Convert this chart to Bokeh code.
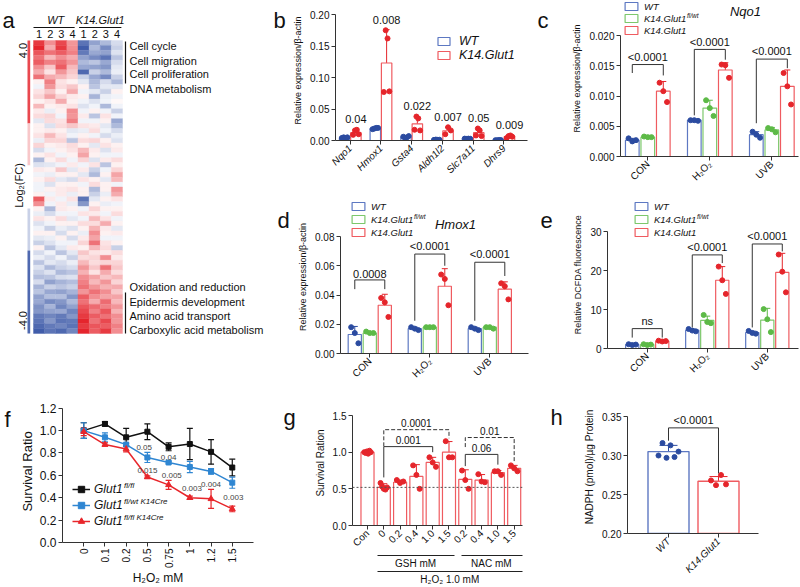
import math
import numpy as np
from bokeh.plotting import figure
from bokeh.models import (Range1d, FixedTicker, NumeralTickFormatter, Legend, LegendItem, Label,
                          LabelSet, Whisker, TeeHead, ColumnDataSource, LinearColorMapper,
                          Span, LinearAxis)
from bokeh.layouts import row, column
from bokeh.core.properties import value
from bokeh.embed import file_html
from bokeh.resources import INLINE

FONT = "Liberation Sans"
AX = "#333333"
BLUE_PT, BLUE_LN = "#2B4BA0", "#5D78C2"
GREEN_PT, GREEN_LN = "#5DBA47", "#7DC86C"
RED_PT, RED_LN = "#E5252B", "#EF5B60"

# ---------------- data: a (heatmap, log2 FC) ----------------
hm_samples = ["1", "2", "3", "4", "1", "2", "3", "4"]
hm_groups = ["WT", "K14.Glut1"]
hm_values = [
    [3.5, 2.0, 3.2, 1.8, -3.0, -2.0, -1.5, -0.8],
    [3.8, 1.5, 3.5, 2.0, -3.5, -1.5, -2.5, -1.0],
    [3.0, 2.5, 2.8, 2.2, -2.8, -1.8, -2.0, -0.6],
    [2.5, 1.2, 2.0, 1.5, -2.0, -2.5, -3.0, -1.2],
    [2.8, 2.2, 2.5, 1.8, -1.5, -1.2, -1.8, -0.8],
    [2.0, 1.0, 2.8, 1.2, -1.8, -2.0, -2.2, -0.5],
    [1.5, 0.5, 1.8, 1.0, -3.2, -1.0, -1.5, -0.4],
    [2.5, 1.5, 1.2, 0.8, -1.0, -1.8, -2.5, -1.0],
    [0.2, 2.2, 0.5, 0.3, -0.5, -1.5, -0.8, -1.5],
    [-0.3, 1.8, 0.6, 1.0, 0.2, -1.2, -0.5, -0.5],
    [0.5, 1.0, 0.3, 1.5, -0.3, -0.5, -1.0, 0.2],
    [0.8, 1.6, 0.8, 0.4, 0.3, -1.6, -0.4, -0.3],
    [0.3, 0.5, 1.5, 0.2, -0.2, -0.6, -0.2, 0.1],
    [1.2, 0.2, 0.4, 0.5, -0.6, -0.3, -1.5, -0.2],
    [0.4, -0.4, 0.2, 2.0, -0.2, 0.3, -0.3, -1.0],
    [0.6, 0.8, -0.2, 1.8, 0.4, -1.2, 0.5, -0.3],
    [-0.5, 0.6, 0.5, 2.2, -0.3, -0.2, 0.3, -1.8],
    [0.2, -0.6, 0.6, 1.0, 0.5, 0.4, -0.5, -1.5],
    [0.3, 0.4, 0.3, -0.5, -0.4, 0.6, -0.2, -0.8],
    [0.5, 1.2, 0.5, -0.2, 0.3, -0.3, -0.8, -0.4],
    [-0.4, 0.8, 0.8, -1.2, 0.6, 0.8, 0.3, -0.6],
    [0.8, 0.2, 0.4, 0.6, 0.2, -0.5, 0.5, 0.3],
    [-0.8, -0.3, 0.2, 0.5, 1.2, 0.4, -0.6, 0.4],
    [0.3, 0.5, -0.3, 0.3, 1.6, 0.2, -0.3, -0.2],
    [-1.5, 0.2, 0.6, -0.2, 0.8, -0.6, 0.4, 0.6],
    [-0.6, -0.5, -0.3, 0.4, -0.3, 0.5, -1.2, 0.2],
    [0.4, 0.3, 1.0, -0.5, 0.4, -1.0, -0.2, 0.8],
    [-0.3, -0.4, 0.2, 0.3, -0.5, -1.5, 0.3, 1.6],
    [0.2, 0.6, -0.5, -0.8, 0.5, 0.3, -0.5, 1.2],
    [-0.2, -0.6, 0.3, 0.2, -0.2, 0.6, 0.2, -0.3],
    [-0.2, 0.3, 0.4, 0.5, 0.3, -1.5, 0.3, 1.8],
    [0.3, -0.3, 0.4, -0.4, 0.2, -1.0, -0.4, 1.5],
    [2.8, 0.4, -0.2, 0.5, -3.0, -0.5, 0.3, 0.5],
    [2.0, -0.3, 0.4, -0.4, -2.2, 0.3, -0.4, -0.2],
    [0.3, -1.5, 0.4, 0.3, -0.2, 0.8, 0.3, 0.2],
    [-0.4, -0.8, -0.2, -0.3, 0.5, 0.4, -0.3, 0.6],
    [0.5, 0.3, 0.6, -0.5, -0.3, 1.2, 0.5, -0.2],
    [-0.6, -0.3, 0.3, 0.2, 0.6, 0.6, 1.5, 0.3],
    [-0.3, -1.0, -0.4, -0.6, 0.2, 1.4, 0.4, -0.5],
    [0.3, 0.2, -0.8, 0.3, -0.4, 2.0, 0.3, 0.4],
    [-0.5, -0.4, 0.3, -0.8, 0.4, 1.6, -0.2, -0.3],
    [-1.0, -0.6, -0.3, -0.3, 0.8, 2.4, 0.5, 0.2],
    [0.2, -1.2, -0.5, 0.4, 0.3, 1.2, 0.6, -1.0],
    [-0.8, -0.3, -1.2, -0.5, 1.0, 0.5, 0.4, 0.6],
    [-0.4, -0.8, -0.3, -1.0, 0.6, 0.8, 2.0, 0.4],
    [-1.2, -0.5, -0.8, -0.4, 1.2, 0.6, 0.8, 0.8],
    [-0.6, -1.5, -1.0, -0.8, 1.8, 1.0, 2.4, 1.0],
    [-1.0, -0.6, -1.5, -1.2, 1.4, 0.5, 1.5, 0.6],
    [-1.4, -1.2, -0.8, -0.6, 2.0, 1.6, 1.0, 1.2],
    [-0.8, -2.0, -1.6, -1.4, 2.2, 1.2, 1.8, 0.8],
    [-1.6, -1.0, -1.2, -1.0, 2.5, 1.8, 1.4, 1.5],
    [-1.2, -1.8, -2.0, -1.6, 1.8, 2.5, 2.0, 1.0],
    [-2.0, -1.4, -1.4, -2.2, 2.8, 2.0, 1.6, 1.6],
    [-1.8, -2.5, -2.2, -1.5, 2.4, 1.5, 2.6, 1.2],
    [-2.4, -1.6, -2.6, -2.0, 3.0, 2.6, 2.2, 1.8],
    [-2.2, -2.0, -1.8, -2.6, 3.2, 2.2, 3.0, 1.4],
    [-2.8, -2.6, -2.8, -2.2, 3.5, 2.8, 2.4, 2.0],
    [-3.0, -2.2, -3.0, -2.8, 3.8, 2.5, 3.2, 1.8],
    [-3.2, -2.8, -2.6, -3.0, 3.5, 3.0, 2.8, 2.2],
    [-3.5, -3.0, -3.2, -2.6, 3.8, 2.8, 3.5, 2.0],
]
hm_terms_up = ["Cell cycle", "Cell migration", "Cell proliferation", "DNA metabolism"]
hm_terms_down = ["Oxidation and reduction", "Epidermis development",
                 "Amino acid transport", "Carboxylic acid metabolism"]
hm_key_levels = [3.2, 1.0, 0.0, -1.0, -3.2]
hm_key_labels = ["4.0", "-4.0"]

# ---------------- data: b ----------------
b_genes = ["Nqo1", "Hmox1", "Gsta4", "Aldh1l2", "Slc7a11", "Dhrs9"]
b_wt = [0.0045, 0.0190, 0.0055, 0.0012, 0.0028, 0.0006]
b_wt_sd = [0.0005, 0.0012, 0.0012, 0.0004, 0.0004, 0.0002]
b_wt_pts = [[0.004, 0.005, 0.004, 0.005], [0.018, 0.019, 0.020, 0.020],
            [0.006, 0.004, 0.005, 0.007], [0.001, 0.0015, 0.001, 0.0012],
            [0.003, 0.0025, 0.003, 0.0028], [0.0005, 0.0005, 0.0008, 0.0006]]
b_k14 = [0.0125, 0.123, 0.0265, 0.0155, 0.0125, 0.0063]
b_k14_sd = [0.005, 0.053, 0.011, 0.0055, 0.006, 0.0018]
b_k14_pts = [[0.009, 0.016, 0.017, 0.010], [0.077, 0.175, 0.162, 0.078],
             [0.017, 0.038, 0.035, 0.016], [0.010, 0.021, 0.016],
             [0.008, 0.019, 0.016, 0.007], [0.004, 0.007, 0.008, 0.006]]
b_pvals = ["0.04", "0.008", "0.022", "0.007", "0.05", "0.009"]
b_yticks = [0.0, 0.05, 0.10, 0.15, 0.20]

# ---------------- data: c, d, e ----------------
cde_groups = ["CON", "H\u2082O\u2082", "UVB"]
cde_series = ["WT", "K14.Glut1", "K14.Glut1"]

c_wt = [0.0027, 0.0060, 0.0036]
c_wt_sd = [0.0003, 0.0001, 0.0005]
c_wt_pts = [[0.0030, 0.0025, 0.0027], [0.0060, 0.0060, 0.0059], [0.0041, 0.0036, 0.0031]]
c_fl = [0.0032, 0.0080, 0.0044]
c_fl_sd = [0.0001, 0.0013, 0.0004]
c_fl_pts = [[0.0033, 0.0032, 0.0032], [0.0093, 0.0080, 0.0067], [0.0047, 0.0045, 0.0040]]
c_ko = [0.0108, 0.0143, 0.0116]
c_ko_sd = [0.0016, 0.0012, 0.0027]
c_ko_pts = [[0.0122, 0.0108, 0.0090], [0.0152, 0.0151, 0.0130], [0.0138, 0.0116, 0.0086]]
c_br_top = [0.0152, 0.0177, 0.0161]
c_br_left = [0.0138, 0.0068, 0.0055]
c_br_right = [0.0134, 0.0160, 0.0146]
c_br_text = ["<0.0001", "<0.0001", "<0.0001"]
c_yticks = [0.0, 0.005, 0.010, 0.015, 0.020]

d_wt = [0.013, 0.017, 0.017]
d_wt_sd = [0.0055, 0.001, 0.001]
d_wt_pts = [[0.018, 0.014, 0.007], [0.018, 0.017, 0.016], [0.018, 0.017, 0.016]]
d_fl = [0.014, 0.018, 0.018]
d_fl_sd = [0.0005, 0.0004, 0.0005]
d_fl_pts = [[0.015, 0.014, 0.014], [0.018, 0.018, 0.018], [0.018, 0.018, 0.017]]
d_ko = [0.033, 0.046, 0.044]
d_ko_sd = [0.0075, 0.012, 0.005]
d_ko_pts = [[0.038, 0.035, 0.025], [0.054, 0.051, 0.033], [0.048, 0.046, 0.037]]
d_br_top = [0.0503, 0.068, 0.0624]
d_br_left = [0.044, 0.0224, 0.0224]
d_br_right = [0.044, 0.060, 0.053]
d_br_text = ["0.0008", "<0.0001", "<0.0001"]
d_yticks = [0.0, 0.02, 0.04, 0.06, 0.08]

e_wt = [1.0, 4.7, 4.1]
e_wt_sd = [0.1, 0.3, 0.35]
e_wt_pts = [[1.1, 0.9, 1.0], [5.0, 4.6, 4.4], [4.5, 4.0, 3.8]]
e_fl = [1.0, 7.2, 7.3]
e_fl_sd = [0.1, 1.1, 3.0]
e_fl_pts = [[1.1, 0.9, 1.0], [8.6, 6.8, 6.5], [10.1, 7.5, 4.2]]
e_ko = [1.9, 17.5, 19.5]
e_ko_sd = [0.15, 3.5, 4.9]
e_ko_pts = [[2.0, 1.8, 1.9], [21.0, 17.5, 14.0], [24.1, 19.7, 14.4]]
e_br_top = [5.1, 24.0, 26.8]
e_br_left = [2.8, 5.4, 5.4]
e_br_right = [2.8, 21.9, 24.9]
e_br_text = ["ns", "<0.0001", "<0.0001"]
e_yticks = [0, 10, 20, 30]

# ---------------- data: f ----------------
f_doses = ["0", "0.1", "0.2", "0.5", "0.75", "1", "1.2", "1.5"]
f_black = [1.0, 1.06, 0.94, 0.99, 0.855, 0.88, 0.81, 0.67]
f_black_sd = [0.07, 0.02, 0.08, 0.07, 0.035, 0.14, 0.11, 0.075]
f_blue = [1.0, 0.94, 0.875, 0.76, 0.715, 0.675, 0.635, 0.535]
f_blue_sd = [0.07, 0.04, 0.01, 0.045, 0.01, 0.05, 0.025, 0.05]
f_red = [0.99, 0.875, 0.835, 0.585, 0.515, 0.40, 0.39, 0.30]
f_red_sd = [0.035, 0.015, 0.025, 0.01, 0.04, 0.015, 0.085, 0.025]
f_p_text = ["0.05", "0.04", "0.015", "0.005", "0.003", "0.004", "0.003"]
f_p_dose = [2.85, 4.0, 3.0, 4.15, 5.1, 6.0, 7.05]
f_p_y = [0.847, 0.763, 0.644, 0.60, 0.486, 0.52, 0.40]
f_yticks = [0.0, 0.2, 0.4, 0.6, 0.8, 1.0, 1.2]
f_names = ["Glut1", "Glut1", "Glut1"]
f_sups = ["fl/fl", "fl/wt K14Cre", "fl/fl K14Cre"]

# ---------------- data: g ----------------
g_labels = ["Con", "0", "0.2", "0.4", "1.0", "1.5", "0.2", "0.4", "1.0", "1.5"]
g_vals = [1.0, 0.52, 0.59, 0.67, 0.86, 1.0, 0.63, 0.62, 0.72, 0.78]
g_sd = [0.02, 0.05, 0.03, 0.16, 0.07, 0.145, 0.13, 0.075, 0.03, 0.04]
g_pts = [[1.0, 0.99, 1.01, 0.98, 1.02, 1.0], [0.58, 0.53, 0.50, 0.49, 0.52],
         [0.62, 0.58, 0.60], [0.82, 0.69, 0.50], [0.93, 0.86, 0.80],
         [1.15, 0.93, 0.93], [0.75, 0.62, 0.50], [0.70, 0.60, 0.59],
         [0.74, 0.74, 0.69], [0.82, 0.78, 0.74]]
g_ref_line = 0.52
g_br_x1 = [1, 1, 6, 6]
g_br_x2 = [4, 5, 8, 9]
g_br_top = [1.076, 1.307, 0.97, 1.2]
g_br_left = [0.656, 1.08, 0.81, 1.07]
g_br_right = [1.0, 1.19, 0.83, 0.87]
g_br_text = ["0.001", "0.0001", "0.06", "0.01"]
g_br_dashed = [False, True, False, True]
g_group_names = ["GSH mM", "NAC mM"]
g_outer_name = "H\u2082O\u2082 1.0 mM"
g_yticks = [0.0, 0.5, 1.0, 1.5]

# ---------------- data: h ----------------
h_groups = ["WT", "K14.Glut1"]
h_vals = [0.305, 0.267]
h_sd = [0.008, 0.006]
h_pts = [[0.300, 0.316, 0.297, 0.313, 0.298, 0.305], [0.268, 0.262, 0.275, 0.263]]
h_br_top = 0.3354
h_br_left = 0.319
h_br_right = 0.277
h_br_text = "<0.0001"
h_yticks = [0.20, 0.25, 0.30, 0.35]


# ---------------- helpers ----------------
def noalign(p):
    try:
        p.frame_align = False
    except Exception:
        pass


def yext(y0, ytop, top_px, frame_top, frame_bottom):
    ppu = (frame_bottom - top_px) / (ytop - y0)
    return ytop + (top_px - frame_top) / ppu


def mk(w, h, geo, xr, yr):
    fl, fr, ft, fb = geo
    p = figure(width=w, height=h, x_range=Range1d(*xr), y_range=Range1d(*yr),
               output_backend="svg", toolbar_location=None, title=None,
               min_border_left=fl, min_border_right=w - fr,
               min_border_top=ft, min_border_bottom=h - fb)
    p.xgrid.visible = False
    p.ygrid.visible = False
    p.outline_line_color = None
    p.background_fill_color = "white"
    p.border_fill_color = "white"
    noalign(p)
    return p


def gutter(w, h, letter, x, y=20, size=22):
    g = figure(width=w, height=h, x_range=Range1d(0, w), y_range=Range1d(h, 0),
               output_backend="svg", toolbar_location=None, title=None,
               x_axis_type=None, y_axis_type=None, min_border=0)
    g.outline_line_color = None
    g.grid.visible = False
    noalign(g)
    g.text(x=[x], y=[y], text=[letter], text_font=value(FONT), text_font_size=f"{size}px",
           text_align="left", text_baseline="alphabetic", text_color="#111111")
    return g


def axes(p, tick_px, label_px, xticks, xlabels, yticks, yfmt, ylabel, ybounds,
         xrot=math.pi / 4, xitalic=False, xtick_px=None, xlabel=None):
    for a in list(p.xaxis) + list(p.yaxis):
        a.axis_line_color = AX
        a.major_tick_line_color = AX
        a.minor_tick_line_color = None
        a.major_tick_out = 4
        a.major_tick_in = 0
        a.major_label_standoff = 2
        a.major_label_text_font = FONT
        a.major_label_text_font_size = f"{tick_px}px"
        a.major_label_text_color = "#111111"
        a.axis_label_text_font = FONT
        a.axis_label_text_font_size = f"{label_px}px"
        a.axis_label_text_font_style = "normal"
        a.axis_label_text_color = "#111111"
        a.axis_label_standoff = 4
    p.xaxis.ticker = FixedTicker(ticks=list(xticks))
    p.xaxis.major_label_overrides = {int(t): l for t, l in zip(xticks, xlabels)}
    p.xaxis.major_label_orientation = xrot
    if xitalic:
        p.xaxis.major_label_text_font_style = "italic"
    if xtick_px:
        p.xaxis.major_label_text_font_size = f"{xtick_px}px"
    if xlabel:
        p.xaxis.axis_label = xlabel
    p.yaxis.ticker = FixedTicker(ticks=list(yticks))
    p.yaxis.formatter = NumeralTickFormatter(format=yfmt)
    p.yaxis.axis_label = ylabel
    p.yaxis.bounds = ybounds


def lab(p, geo, px, py, text, size, **kw):
    fl, fr, ft, fb = geo
    kw.setdefault("text_baseline", "middle")
    kw.setdefault("text_color", "#111111")
    p.add_layout(Label(x=px - fl, y=fb - py, x_units="screen", y_units="screen", text=text,
                       text_font=FONT, text_font_size=f"{size}px", **kw))


def add_err(p, xs, ys, sds, color, cap, width=1.0):
    src = ColumnDataSource(dict(x=list(xs), up=[a + b for a, b in zip(ys, sds)],
                                lo=[a - b for a, b in zip(ys, sds)]))
    p.add_layout(Whisker(base="x", upper="up", lower="lo", source=src, line_color=color,
                         line_width=width,
                         upper_head=TeeHead(size=cap, line_color=color, line_width=width),
                         lower_head=TeeHead(size=cap, line_color=color, line_width=width)))


def add_pts(p, xcenters, pts, color, spread, size=5, marker="circle"):
    xs, ys = [], []
    for xc, arr in zip(xcenters, pts):
        n = len(arr)
        offs = np.linspace(-spread, spread, n) if n > 1 else [0.0]
        xs += [xc + o for o in offs]
        ys += list(arr)
    p.scatter(xs, ys, size=size, color=color, marker=marker)


def ptext(p, xs, ys, texts, size, color="#111111", baseline="bottom"):
    src = ColumnDataSource(dict(x=list(xs), y=list(ys), t=list(texts)))
    p.add_layout(LabelSet(x="x", y="y", text="t", source=src, text_align="center",
                          text_baseline=baseline, text_font=value(FONT),
                          text_font_size=f"{size}px", text_color=color))


def brackets(p, x1, x2, top, left, right, texts, size, yoff, dash="solid"):
    xs = [[a, a, b, b] for a, b in zip(x1, x2)]
    ys = [[l, t, t, r] for l, t, r in zip(left, top, right)]
    p.multi_line(xs, ys, line_color="#333333", line_width=1, line_dash=dash)
    ptext(p, [(a + b) / 2 for a, b in zip(x1, x2)], [t + yoff for t in top], texts, size)


def legend(p, geo, rends, labels, lx, top, fs, gw, gh, lh, sp, so):
    fl, fr, ft, fb = geo
    n = len(labels)
    item = max(gh, lh)
    hgt = n * item + (n - 1) * sp
    lg = Legend(items=[LegendItem(label=l, renderers=r if isinstance(r, list) else [r])
                       for l, r in zip(labels, rends)],
                location=(int(round(lx - fl)), int(round(fb - (top + hgt)))),
                orientation="vertical",
                padding=0, margin=0, spacing=int(sp), glyph_width=int(gw), glyph_height=int(gh),
                label_height=int(lh), label_standoff=int(so), border_line_color=None,
                background_fill_alpha=0, label_text_font=FONT,
                label_text_font_size=f"{fs}px", label_text_font_style="italic",
                label_text_color="#111111")
    p.add_layout(lg)
    return item


def grouped(p, series, off, width, jit, cap):
    gx = np.arange(3)
    rends = []
    for k, (vals, sds, pts, lc, pcol) in enumerate(series):
        xs = gx + (k - 1) * off
        r = p.vbar(x=xs, top=vals, width=width, bottom=0, fill_color="white",
                   line_color=lc, line_width=1.2)
        add_err(p, xs, vals, sds, pcol, cap)
        add_pts(p, xs, pts, pcol, jit)
        rends.append(r)
    return rends


# ---------------- panel a ----------------
A_W, A_H = 270, 400
HL, HR, HT, HB = 33, 122, 40, 333
ncol, nrow = len(hm_samples), len(hm_values)
cw = (HR - HL) / ncol
rh = (HB - HT) / nrow


def ax_(px):
    return (px - HL) / cw


def ay_(py):
    return (py - HT) / rh


pa = figure(width=A_W, height=A_H, x_range=Range1d(ax_(0), ax_(A_W)),
            y_range=Range1d(ay_(A_H), ay_(0)), output_backend="svg", toolbar_location=None,
            title=None, x_axis_type=None, y_axis_type=None, min_border=0)
pa.outline_line_color = None
pa.grid.visible = False
noalign(pa)

lo_c, hi_c, wh = (38, 70, 158), (228, 30, 38), (255, 255, 255)
palette = []
for i in range(65):
    v = -1 + 2 * i / 64
    end = lo_c if v < 0 else hi_c
    t = abs(v)
    palette.append("#%02x%02x%02x" % tuple(int(round(a + (b - a) * t)) for a, b in zip(wh, end)))
mapper = LinearColorMapper(palette=palette, low=-4, high=4)

hx, hy, hv = [], [], []
for i, r in enumerate(hm_values):
    for j, v in enumerate(r):
        hx.append(j + 0.5)
        hy.append(i + 0.5)
        hv.append(v)
hsrc = ColumnDataSource(dict(x=hx, y=hy, v=hv))
pa.rect(x="x", y="y", width=1, height=1, source=hsrc,
        fill_color={"field": "v", "transform": mapper},
        line_color={"field": "v", "transform": mapper}, line_width=0.4)

key_py = [40, 123, 165, 208, 250, 333]
ksrc = ColumnDataSource(dict(top=[ay_(v) for v in key_py[:-1]], bottom=[ay_(v) for v in key_py[1:]],
                             lv=hm_key_levels))
pa.quad(left=ax_(27), right=ax_(29.7), top="top", bottom="bottom", source=ksrc,
        fill_color={"field": "lv", "transform": mapper}, line_color=None)


def atext(xs, ys, texts, size, align="left", italic=False, angle=0.0, baseline="middle"):
    pa.text(x=xs, y=ys, text=texts, text_font=value(FONT), text_font_size=f"{size}px",
            text_align=align, text_baseline=baseline, angle=angle, text_color="#111111",
            text_font_style="italic" if italic else "normal")


atext([ax_(2)], [ay_(20)], ["a"], 22, baseline="alphabetic")
atext([2.0, 6.0], [ay_(19)] * 2, hm_groups, 11, align="center", italic=True)
pa.multi_line([[0.0, 3.7], [4.1, 7.9]], [[ay_(27), ay_(27)], [ay_(27), ay_(27)]],
              line_color="#111111", line_width=1)
atext([j + 0.5 for j in range(ncol)], [ay_(33)] * ncol, hm_samples, 11, align="center")
atext([ax_(129)] * 4, [ay_(v) for v in (45, 60, 73, 88)], hm_terms_up, 11)
atext([ax_(129)] * 4, [ay_(v) for v in (286, 301, 315, 329)], hm_terms_down, 11)
pa.multi_line([[ax_(125), ax_(125)], [ax_(125), ax_(125)]],
              [[ay_(41), ay_(83)], [ay_(292), ay_(333)]], line_color="#111111", line_width=1.2)
atext([ax_(22), ax_(22)], [ay_(50), ay_(320)], hm_key_labels, 11, align="center", angle=math.pi / 2)
atext([ax_(18)], [ay_(185)], ["Log\u2082(FC)"], 11, align="center", angle=math.pi / 2)

# ---------------- panel b ----------------
gb = gutter(20, 200, "b", 3)
b_geo = (39, 237, 0, 140)
pb = mk(240, 200, b_geo, (-0.48, 5.77), (0, yext(0, 0.20, 14, 0, 140)))
axes(pb, 10, 9, range(len(b_genes)), b_genes, b_yticks, "0.00",
     "Relative expression/\u03b2-actin", (0, 0.20), xitalic=True)
bx = np.arange(len(b_genes))
B_OFF, B_W = 0.184, 0.34
r_bw = pb.vbar(x=bx - B_OFF, top=b_wt, width=B_W, bottom=0, fill_color="white",
               line_color=BLUE_LN, line_width=1.2)
r_bk = pb.vbar(x=bx + B_OFF, top=b_k14, width=B_W, bottom=0, fill_color="white",
               line_color=RED_LN, line_width=1.2)
add_err(pb, bx - B_OFF, b_wt, b_wt_sd, BLUE_PT, 6)
add_err(pb, bx + B_OFF, b_k14, b_k14_sd, RED_PT, 6)
add_pts(pb, bx - B_OFF, b_wt_pts, BLUE_PT, 0.09)
add_pts(pb, bx + B_OFF, b_k14_pts, RED_PT, 0.09)
ptext(pb, bx + B_OFF, [max(a) + 0.017 for a in b_k14_pts], b_pvals, 11, baseline="middle")
legend(pb, b_geo, [r_bw, r_bk], ["WT", "K14.Glut1"], 140, 34, 12.5, 15, 10, 14, 0, 8)

# ---------------- panel c ----------------
G_OFF, G_W, JIT = 0.25, 0.22, 0.06
gc = gutter(30, 200, "c", 7)
c_geo = (60, 238, 0, 156)
pc = mk(240, 200, c_geo, (-0.44, 2.43), (0, yext(0, 0.020, 35, 0, 156)))
axes(pc, 10, 9, range(3), cde_groups, c_yticks, "0.000", "Relative expression/\u03b2-actin",
     (0, 0.020))
rc = grouped(pc, [(c_wt, c_wt_sd, c_wt_pts, BLUE_LN, BLUE_PT),
                  (c_fl, c_fl_sd, c_fl_pts, GREEN_LN, GREEN_PT),
                  (c_ko, c_ko_sd, c_ko_pts, RED_LN, RED_PT)], G_OFF, G_W, JIT, 6)
brackets(pc, [g - G_OFF for g in range(3)], [g + G_OFF for g in range(3)],
         c_br_top, c_br_left, c_br_right, c_br_text, 11, 0.0003)
it = legend(pc, c_geo, rc, cde_series, 63, 0, 9.5, 16, 10, 12, 0, 5)
lab(pc, c_geo, 63 + 16 + 5 + 42.5, it * 1.5 - 3, "fl/wt", 6.5, text_font_style="italic")
lab(pc, c_geo, 185, 11, "Nqo1", 13, text_font_style="italic", text_align="center")

# ---------------- panel d ----------------
gd = gutter(22, 200, "d", 7)
d_geo = (48, 236, 0, 153)
pd_ = mk(238, 200, d_geo, (-0.488, 2.645), (0, yext(0, 0.08, 36, 0, 153)))
axes(pd_, 10, 9, range(3), cde_groups, d_yticks, "0.00", "Relative expression/\u03b2-actin",
     (0, 0.08))
rd = grouped(pd_, [(d_wt, d_wt_sd, d_wt_pts, BLUE_LN, BLUE_PT),
                   (d_fl, d_fl_sd, d_fl_pts, GREEN_LN, GREEN_PT),
                   (d_ko, d_ko_sd, d_ko_pts, RED_LN, RED_PT)], G_OFF, G_W, JIT, 6)
brackets(pd_, [g - G_OFF for g in range(3)], [g + G_OFF for g in range(3)],
         d_br_top, d_br_left, d_br_right, d_br_text, 11, 0.0012)
it = legend(pd_, d_geo, rd, cde_series, 58, 0, 9.5, 16, 10, 12, 1, 5)
lab(pd_, d_geo, 58 + 16 + 5 + 42.5, it * 1.5 + 1 - 3, "fl/wt", 6.5, text_font_style="italic")
lab(pd_, d_geo, 163, 24, "Hmox1", 13, text_font_style="italic", text_align="center")

# ---------------- panel e ----------------
ge = gutter(28, 200, "e", 10)
e_geo = (49, 240, 0, 148)
pe = mk(242, 200, e_geo, (-0.662, 2.52), (0, yext(0, 30, 31, 0, 148)))
axes(pe, 10, 9, range(3), cde_groups, e_yticks, "0", "Relative DCFDA fluorescence", (0, 30))
re_ = grouped(pe, [(e_wt, e_wt_sd, e_wt_pts, BLUE_LN, BLUE_PT),
                   (e_fl, e_fl_sd, e_fl_pts, GREEN_LN, GREEN_PT),
                   (e_ko, e_ko_sd, e_ko_pts, RED_LN, RED_PT)], G_OFF, G_W, JIT, 6)
brackets(pe, [g - G_OFF for g in range(3)], [g + G_OFF for g in range(3)],
         e_br_top, e_br_left, e_br_right, e_br_text, 11, 0.45)
it = legend(pe, e_geo, re_, cde_series, 75, 0, 9.5, 16, 10, 12, 1, 5)
lab(pe, e_geo, 75 + 16 + 5 + 42.5, it * 1.5 + 1 - 3, "fl/wt", 6.5, text_font_style="italic")

# ---------------- panel f ----------------
gf = gutter(16, 187, "f", 4, 19)
f_geo = (39, 237, 0, 147)
pf = mk(254, 187, f_geo, (-1, 8), (0, yext(0, 1.2, 8, 0, 147)))
axes(pf, 12, 12, range(len(f_doses)), f_doses, f_yticks, "0.0", "Survival Ratio", (0, 1.2),
     xrot=math.pi / 2, xtick_px=10, xlabel="H\u2082O\u2082 mM")
pf.xaxis.axis_label_standoff = 0
pf.yaxis.axis_label_standoff = 2
pf.yaxis.axis_label_text_font_size = "13px"
fx = list(range(len(f_doses)))
f_series = [(f_black, f_black_sd, "#111111", "square", 5),
            (f_blue, f_blue_sd, "#2F86D2", "square", 5),
            (f_red, f_red_sd, "#E8262B", "triangle", 6)]
f_rends = []
for vals, sds, col, mkr, sz in f_series:
    add_err(pf, fx, vals, sds, col, 6, width=1.2)
    rl = pf.line(fx, vals, line_color=col, line_width=1.5)
    rs = pf.scatter(fx, vals, marker=mkr, size=sz, color=col)
    f_rends.append([rl, rs])
ptext(pf, f_p_dose, f_p_y, f_p_text, 8, color="#444444", baseline="middle")
it = legend(pf, f_geo, f_rends, f_names, 49, 86, 12, 18, 16, 16, 0, 4)
for k, sup in enumerate(f_sups):
    lab(pf, f_geo, 49 + 18 + 4 + 29.5, 86 + it * k + it / 2 - 4, sup, 8, text_font_style="italic")

# ---------------- panel g ----------------
gg = gutter(30, 187, "g", 13, 17)
g_geo = (52, 222, 0, 133)
g_xr = (-0.92, 9.51)
pg = mk(240, 187, g_geo, g_xr, (0, yext(0, 1.5, 16, 0, 133)))
axes(pg, 10, 10, range(len(g_labels)), g_labels, g_yticks, "0.0", "Survival Ration", (0, 1.5))
gx = np.arange(len(g_labels))
pg.vbar(x=gx, top=g_vals, width=0.8, bottom=0, fill_color="white", line_color=RED_LN, line_width=1.2)
add_err(pg, gx, g_vals, g_sd, RED_PT, 7)
add_pts(pg, gx, g_pts, RED_PT, 0.2)
pg.add_layout(Span(location=g_ref_line, dimension="width", line_dash="2 2",
                   line_color="#555555", line_width=1))
for k in range(len(g_br_text)):
    brackets(pg, [g_br_x1[k]], [g_br_x2[k]], [g_br_top[k]], [g_br_left[k]], [g_br_right[k]],
             [g_br_text[k]], 10, 0.03, dash="4 2" if g_br_dashed[k] else "solid")
ppu = (g_geo[1] - g_geo[0]) / (g_xr[1] - g_xr[0])
seg1 = int(round((5.3 - 0.6) * ppu))
gap = int(round(0.4 * ppu))
for ticks, names, dash in [([2.95, 7.6], g_group_names, f"{seg1} {gap} 200"),
                           ([5.05], [g_outer_name], "solid")]:
    extra = LinearAxis(ticker=FixedTicker(ticks=ticks),
                       major_label_overrides={t: n for t, n in zip(ticks, names)},
                       bounds=(0.6, 9.5), axis_line_color="#222222", axis_line_dash=dash,
                       major_tick_line_color=None, minor_tick_line_color=None,
                       major_tick_out=0, major_tick_in=0, major_label_standoff=2,
                       major_label_text_font=FONT, major_label_text_font_size="10px",
                       major_label_text_color="#111111")
    pg.add_layout(extra, "below")

# ---------------- panel h ----------------
gh_ = gutter(28, 187, "h", 10, 17)
h_geo = (59, 190, 0, 133)
ph = mk(232, 187, h_geo, (-0.82, 1.8), (0.20, yext(0.20, 0.35, 16, 0, 133)))
axes(ph, 10, 10, range(2), h_groups, h_yticks, "0.00", "NADPH (pmol)/\u00b5g Protein",
     (0.20, 0.35), xitalic=True)
hxs = np.arange(2)
ph.vbar(x=hxs, top=h_vals, width=0.82, bottom=0.20, fill_color="white",
        line_color=[BLUE_LN, RED_LN], line_width=1.4)
add_err(ph, [0], [h_vals[0]], [h_sd[0]], BLUE_PT, 18)
add_err(ph, [1], [h_vals[1]], [h_sd[1]], RED_PT, 18)
add_pts(ph, [0], [h_pts[0]], BLUE_PT, 0.2)
add_pts(ph, [1], [h_pts[1]], RED_PT, 0.15)
brackets(ph, [0], [1], [h_br_top], [h_br_left], [h_br_right], [h_br_text], 11, 0.002)

layout = column(
    row(pa, column(row(gb, pb), row(gd, pd_)), column(row(gc, pc), row(ge, pe))),
    row(column(row(gf, pf)), column(row(gg, pg)), column(row(gh_, ph))),
)
open("out.html", "w").write(file_html(layout, INLINE))
